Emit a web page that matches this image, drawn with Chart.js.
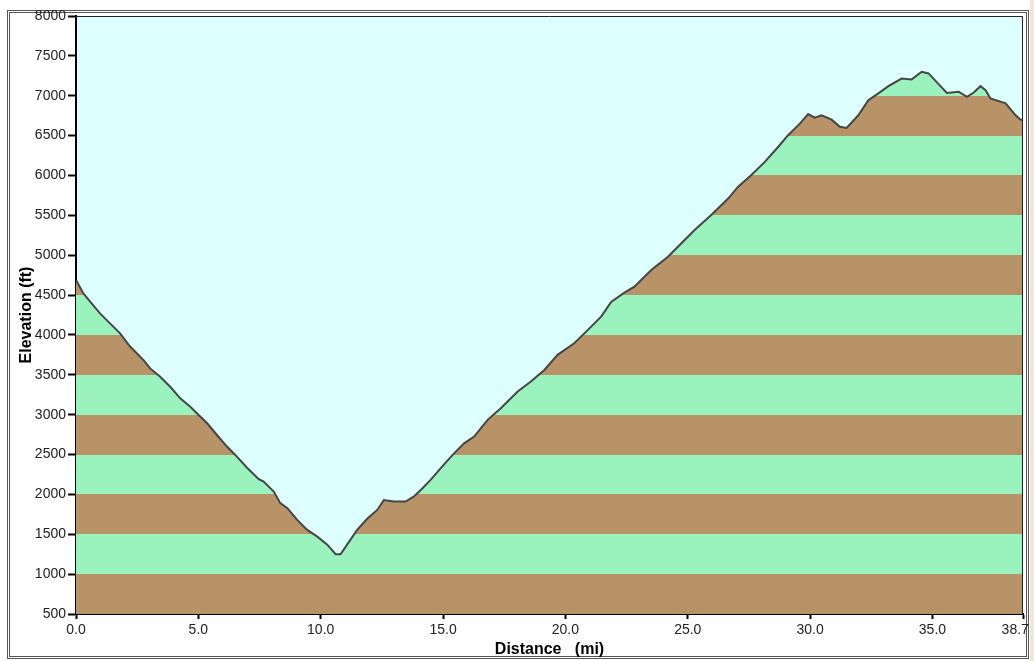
<!DOCTYPE html>
<html>
<head>
<meta charset="utf-8">
<title>Elevation profile</title>
<script src="https://cdn.jsdelivr.net/npm/chart.js@4.4.0/dist/chart.umd.min.js"></script>
<style>
    html, body { margin: 0; padding: 0; background: #ffffff; }
    #profile { display: block; }
</style>
</head>
<body>
<canvas id="profile" width="1034" height="661"></canvas>
<script>
// ============================================================
// DONNEES
// ============================================================
const distances = [
    0, 0.30, 0.57, 0.98, 1.39, 1.80, 2.21, 2.76, 3.03, 3.44,
    3.85, 4.26, 4.67, 5.01, 5.35, 5.76, 6.17, 6.51, 6.99, 7.47,
    7.67, 8.08, 8.35, 8.63, 9.04, 9.45, 9.86, 10.27, 10.61, 10.81,
    11.08, 11.49, 11.90, 12.31, 12.58, 12.99, 13.47, 13.81, 14.09, 14.50,
    15.05, 15.45, 15.86, 16.27, 16.82, 17.36, 18.05, 18.59, 19.14, 19.68,
    20.36, 20.91, 21.46, 21.87, 22.41, 22.82, 23.51, 24.19, 24.74, 25.28,
    25.96, 26.65, 27.06, 27.60, 28.15, 28.70, 29.10, 29.58, 29.92, 30.19,
    30.47, 30.88, 31.22, 31.49, 31.97, 32.38, 32.79, 33.20, 33.74, 34.15,
    34.56, 34.84, 35.25, 35.59, 36.07, 36.41, 36.69, 36.96, 37.17, 37.37,
    37.99, 38.40, 38.60, 38.70
];
const elevations = [
    4690, 4520, 4420, 4270, 4145, 4020, 3855, 3685, 3580, 3475,
    3350, 3205, 3100, 2995, 2895, 2745, 2600, 2495, 2335, 2190,
    2160, 2035, 1890, 1830, 1680, 1555, 1470, 1370, 1250, 1250,
    1370, 1555, 1695, 1805, 1930, 1910, 1910, 1975, 2055, 2185,
    2380, 2515, 2640, 2725, 2935, 3080, 3290, 3415, 3560, 3750,
    3895, 4060, 4230, 4415, 4530, 4605, 4815, 4980, 5150, 5315,
    5505, 5710, 5860, 6005, 6170, 6360, 6505, 6650, 6770, 6725,
    6755, 6700, 6610, 6595, 6755, 6945, 7030, 7120, 7215, 7205,
    7300, 7280, 7145, 7035, 7050, 6985, 7040, 7120, 7070, 6965,
    6905, 6755, 6700, 6700
];
const xTicks = [0, 5, 10, 15, 20, 25, 30, 35, 38.7];
const yTicks = [500, 1000, 1500, 2000, 2500, 3000, 3500, 4000, 4500, 5000, 5500, 6000, 6500, 7000, 7500, 8000];

const SKY = '#ddffff';
const GREEN = '#9af3bd';
const BROWN = '#b89368';

// bandes de 500 ft sous le profil (brun / vert en alternance)
function bandFill(context) {
    const chart = context.chart;
    const area = chart.chartArea;
    if (!area) return GREEN;
    const y = chart.scales.y;
    const y0 = y.getPixelForValue(yTicks[0]);
    const y1 = y.getPixelForValue(yTicks[yTicks.length - 1]);
    const grad = chart.ctx.createLinearGradient(0, y0, 0, y1);
    const span = yTicks[yTicks.length - 1] - yTicks[0];
    for (let i = 0; i < yTicks.length - 1; i++) {
        const color = (yTicks[i] % 1000 === 500) ? BROWN : GREEN;
        grad.addColorStop((yTicks[i] - yTicks[0]) / span, color);
        grad.addColorStop((yTicks[i + 1] - yTicks[0]) / span, color);
    }
    return grad;
}

// ============================================================
// CADRE + FOND DU GRAPHIQUE
// ============================================================
const framePlugin = {
    id: 'frame',
    beforeDraw: function(chart) {
        const ctx = chart.ctx;
        const a = chart.chartArea;
        ctx.save();
        ctx.fillStyle = '#ffffff';
        ctx.fillRect(0, 0, chart.width, chart.height);
        ctx.fillStyle = '#ece9d8';
        ctx.fillRect(1030, 0, chart.width - 1030, chart.height);
        ctx.fillStyle = SKY;
        ctx.fillRect(a.left, a.top, a.right - a.left, a.bottom - a.top);
        ctx.strokeStyle = '#555555';
        ctx.lineWidth = 1;
        ctx.strokeRect(7.5, 10.5, 1021, 648);
        ctx.strokeRect(9.5, 12.5, 1017, 644);
        ctx.restore();
    },
    afterDraw: function(chart) {
        const ctx = chart.ctx;
        const a = chart.chartArea;
        ctx.save();
        ctx.strokeStyle = '#222222';
        ctx.lineWidth = 1;
        ctx.beginPath();
        ctx.moveTo(a.left, a.top + 0.5);
        ctx.lineTo(a.right - 0.5, a.top + 0.5);
        ctx.lineTo(a.right - 0.5, a.bottom);
        ctx.stroke();
        ctx.restore();
    }
};

// ============================================================
// CHART.JS
// ============================================================
const points = distances.map(function(d, i) {
    return { x: d, y: elevations[i] };
});

new Chart(document.getElementById('profile').getContext('2d'), {
    type: 'line',
    data: {
        datasets: [{
            label: 'Elevation',
            data: points,
            borderColor: '#454545',
            borderWidth: 2,
            backgroundColor: bandFill,
            fill: 'start',
            pointRadius: 0,
            tension: 0
        }]
    },
    options: {
        responsive: false,
        devicePixelRatio: 1,
        animation: false,
        layout: {
            autoPadding: false,
            padding: { top: 16, right: 11, left: 0, bottom: 0 }
        },
        plugins: {
            legend: { display: false },
            tooltip: { enabled: false }
        },
        scales: {
            x: {
                type: 'linear',
                min: 0,
                max: 38.7,
                afterFit: function(scale) {
                    scale.height = 47;
                    scale.paddingLeft = 0;
                    scale.paddingRight = 0;
                },
                afterBuildTicks: function(scale) {
                    scale.ticks = xTicks.map(function(v) { return { value: v }; });
                },
                grid: {
                    drawOnChartArea: false,
                    drawTicks: true,
                    tickLength: 5,
                    tickWidth: 2,
                    tickColor: '#000000'
                },
                border: { display: true, color: '#000000', width: 2 },
                ticks: {
                    autoSkip: false,
                    maxRotation: 0,
                    padding: 3,
                    color: '#222222',
                    font: { family: 'Liberation Sans', size: 14 },
                    callback: function(value) {
                        return value === 38.7 ? '38.7    ' : value.toFixed(1);
                    }
                },
                title: {
                    display: true,
                    text: 'Distance   (mi)',
                    color: '#000000',
                    font: { family: 'Liberation Sans', size: 16, weight: 'bold' },
                    padding: { top: 0, bottom: 2 }
                }
            },
            y: {
                min: 500,
                max: 8000,
                afterFit: function(scale) {
                    scale.width = 76;
                    scale.paddingTop = 0;
                    scale.paddingBottom = 0;
                },
                afterBuildTicks: function(scale) {
                    scale.ticks = yTicks.map(function(v) { return { value: v }; });
                },
                grid: {
                    drawOnChartArea: false,
                    drawTicks: true,
                    tickLength: 8,
                    tickWidth: 2,
                    tickColor: '#000000'
                },
                border: { display: true, color: '#000000', width: 2 },
                ticks: {
                    autoSkip: false,
                    padding: 2,
                    color: '#222222',
                    font: { family: 'Liberation Sans', size: 14 },
                    callback: function(value) { return String(value); }
                },
                title: {
                    display: true,
                    text: 'Elevation (ft)',
                    color: '#000000',
                    font: { family: 'Liberation Sans', size: 16, weight: 'bold' },
                    padding: { top: 17, bottom: 0 }
                }
            }
        }
    },
    plugins: [framePlugin]
});
</script>
</body>
</html>
